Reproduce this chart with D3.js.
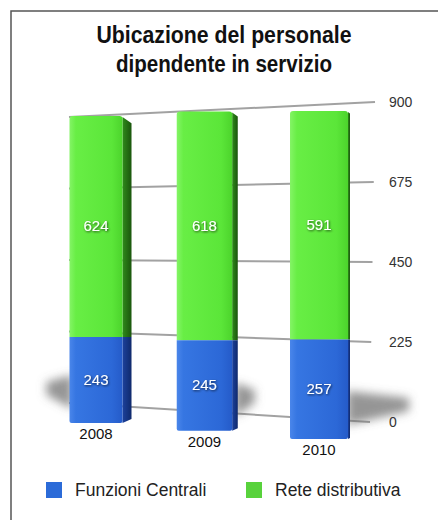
<!DOCTYPE html>
<html><head><meta charset="utf-8">
<script src="https://cdn.jsdelivr.net/npm/d3@7"></script>
<style>
html,body{margin:0;padding:0;background:#fff;}
svg{display:block;}
</style></head><body>
<svg id="chart" width="438" height="520"></svg>
<script>
// ---- data ----
const years = ["2008", "2009", "2010"];
const funzioniCentrali = [243, 245, 257];
const reteDistributiva = [624, 618, 591];
const tickValues = [0, 225, 450, 675, 900];
const seriesNames = ["Funzioni Centrali", "Rete distributiva"];
const titleLines = ["Ubicazione del personale", "dipendente in servizio"];

// ---- setup ----
const W = 438, H = 520;
const svg = d3.select("#chart");
const defs = svg.append("defs");
const FONT = "'Liberation Sans', Arial, Helvetica, sans-serif";

function hGrad(id, stops) {
  const g = defs.append("linearGradient").attr("id", id)
    .attr("x1", "0%").attr("x2", "100%").attr("y1", "0%").attr("y2", "0%");
  stops.forEach(([o, c]) => g.append("stop").attr("offset", o).attr("stop-color", c));
}
hGrad("gFront", [["0%", "#84f466"], ["12%", "#68ee45"], ["80%", "#5be639"], ["100%", "#4cd42c"]]);
hGrad("bFront", [["0%", "#4a86ea"], ["12%", "#3676e2"], ["80%", "#2c68d7"], ["100%", "#255bc9"]]);
hGrad("gSide", [["0%", "#2f8a1b"], ["100%", "#1a560c"]]);
hGrad("bSide", [["0%", "#1c419c"], ["100%", "#0f296c"]]);

const blur = defs.append("filter").attr("id", "blur")
  .attr("x", "-60%").attr("y", "-60%").attr("width", "220%").attr("height", "220%");
blur.append("feGaussianBlur").attr("stdDeviation", 5);

const tshadow = defs.append("filter").attr("id", "tshadow")
  .attr("x", "-20%").attr("y", "-20%").attr("width", "140%").attr("height", "160%");
tshadow.append("feDropShadow").attr("dx", 0.8).attr("dy", 1).attr("stdDeviation", 0.9)
  .attr("flood-color", "#000").attr("flood-opacity", 0.7);

// ---- frame ----
svg.append("rect").attr("x", 11).attr("y", 11).attr("width", W).attr("height", H)
  .attr("fill", "#fff").attr("stroke", "#555").attr("stroke-width", 1.5);

// ---- back wall grid (perspective: right side nearer) ----
const yBackL = d3.scaleLinear().domain([0, 900]).range([403, 117]);
const yBackR = d3.scaleLinear().domain([0, 900]).range([422, 102]);
const xBackR = d3.scaleLinear().domain([0, 900]).range([370, 375]);
const xBackL = 69;

svg.append("g").selectAll("line").data(tickValues).join("line")
  .attr("x1", xBackL).attr("y1", d => yBackL(d))
  .attr("x2", d => xBackR(d)).attr("y2", d => yBackR(d))
  .attr("stroke", "#a2a2a2").attr("stroke-width", 2);

// ---- bar geometry ----
const t = d3.scalePoint().domain(years).range([0, 1]);
const xc = d3.scalePow().exponent(1.04).domain([0, 1]).range([96, 319]);
const wScale = d3.scaleLinear().domain([96, 319]).range([53, 58]);
const baseScale = d3.scaleLinear().domain([96, 319]).range([423, 439]);
const spanScale = d3.scaleLinear().domain([96, 319]).range([318.7, 348.1]);
const sideScale = d3.scaleLinear().domain([96, 319]).range([9, 2]);

const bars = years.map((yr, i) => {
  const cx = xc(t(yr));
  const w = wScale(cx);
  const base = baseScale(cx);
  const y = d3.scaleLinear().domain([0, 900]).range([base, base - spanScale(cx)]);
  return {yr, i, cx, w, x0: cx - w / 2, x1: cx + w / 2, side: sideScale(cx), base, y,
          blue: funzioniCentrali[i], green: reteDistributiva[i]};
});

// ---- floor shadows ----
const shadowLayout = [{dir: -1, len: 26}, {dir: 1, len: 20}, {dir: 1, len: 62}];
svg.append("g").attr("filter", "url(#blur)").selectAll("path").data(bars).join("path")
  .attr("d", b => {
    const s = shadowLayout[b.i];
    const nx = s.dir < 0 ? b.x0 + 3 : b.x1 + b.side - 3;
    const fx = nx + s.dir * s.len;
    return `M${nx},${b.base - 48}L${fx},${b.base - 41}L${fx},${b.base - 28}L${nx},${b.base - 14}Z`;
  })
  .attr("fill", "#6a6a6a").attr("opacity", 0.7);

// tick labels
svg.append("g").selectAll("text").data(tickValues).join("text")
  .attr("x", 389).attr("y", d => yBackR(d) + 5)
  .attr("font-family", FONT).attr("font-size", 14).attr("fill", "#333")
  .text(d => d);

// ---- bars ----
const gBars = svg.append("g");
bars.forEach(b => {
  const g = gBars.append("g");
  const yTop = b.y(b.blue + b.green), yMid = b.y(b.blue), yBot = b.y(0);
  const s = b.side;
  // side faces
  g.append("path").attr("fill", "url(#gSide)")
    .attr("d", `M${b.x1},${yTop + 1}L${b.x1 + s},${yTop + 1 + s * 0.7}L${b.x1 + s},${yMid}L${b.x1},${yMid}Z`);
  g.append("path").attr("fill", "url(#bSide)")
    .attr("d", `M${b.x1},${yMid}L${b.x1 + s},${yMid}L${b.x1 + s},${yBot - s * 0.45}L${b.x1},${yBot}Z`);
  // front faces
  g.append("path").attr("fill", "url(#gFront)")
    .attr("d", `M${b.x0},${yMid}L${b.x0},${yTop + 3}Q${b.x0},${yTop} ${b.x0 + 3},${yTop}L${b.x1 - 3},${yTop}Q${b.x1},${yTop} ${b.x1},${yTop + 3}L${b.x1},${yMid}Z`);
  g.append("path").attr("fill", "url(#bFront)")
    .attr("d", `M${b.x0},${yMid}L${b.x1},${yMid}L${b.x1},${yBot - 2}Q${b.x1},${yBot} ${b.x1 - 2},${yBot}L${b.x0 + 2},${yBot}Q${b.x0},${yBot} ${b.x0},${yBot - 2}Z`);

  // value labels
  const lab = [[b.green, (yTop + yMid) / 2], [b.blue, (yMid + yBot) / 2]];
  lab.forEach(([v, yy]) => {
    g.append("text").attr("x", b.cx).attr("y", yy + 5)
      .attr("text-anchor", "middle").attr("font-family", FONT).attr("font-size", 15)
      .attr("fill", "#fff").attr("filter", "url(#tshadow)").text(v);
  });
  // category label
  g.append("text").attr("x", b.cx).attr("y", yBot + 16)
    .attr("text-anchor", "middle").attr("font-family", FONT).attr("font-size", 15)
    .attr("fill", "#111").text(b.yr);
});

// ---- title (condensed bold) ----
const titleWidths = [255, 216];
svg.append("g").selectAll("text").data(titleLines).join("text")
  .attr("x", 224).attr("y", (d, i) => 43 + i * 29)
  .attr("text-anchor", "middle")
  .attr("font-family", FONT)
  .attr("font-weight", "bold").attr("font-size", 23).attr("fill", "#111")
  .attr("textLength", (d, i) => titleWidths[i])
  .attr("lengthAdjust", "spacingAndGlyphs")
  .text(d => d);

// ---- legend ----
const legendColors = ["#2b6bd8", "#58d23c"];
const legendX = [46, 246];
const lg = svg.append("g").selectAll("g").data(seriesNames).join("g")
  .attr("transform", (d, i) => `translate(${legendX[i]},482)`);
lg.append("rect").attr("width", 16).attr("height", 16).attr("fill", (d, i) => legendColors[i]);
lg.append("text").attr("x", 29).attr("y", 14).attr("font-family", FONT).attr("font-size", 17.5)
  .attr("fill", "#222").text(d => d);
</script>
</body></html>
